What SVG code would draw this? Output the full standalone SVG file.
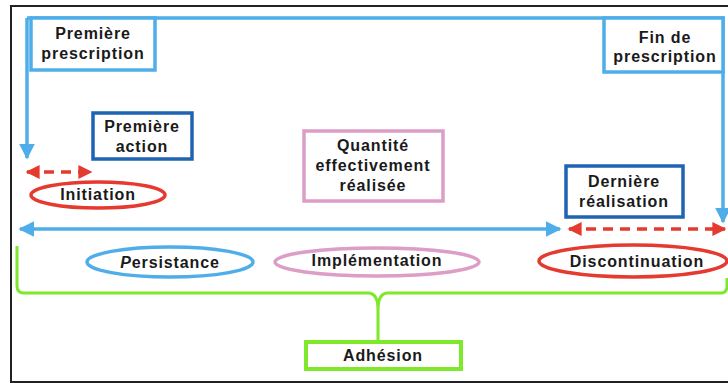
<svg xmlns="http://www.w3.org/2000/svg" width="728" height="383" viewBox="0 0 728 383">
<defs>
<style>
text{font-family:"Liberation Sans",Arial,sans-serif;font-weight:bold;font-size:16px;letter-spacing:0.9px;fill:#1a1a1a;text-anchor:middle}
.lb{fill:#fff;stroke:#4faee9;stroke-width:3.5}
.db{fill:#fff;stroke:#1f63b3;stroke-width:3.5}
.pk{fill:#fff;stroke:#dc9dc6;stroke-width:3.5}
.gr{fill:#fff;stroke:#7ee82a;stroke-width:4}
.rd{fill:#fff;stroke:#e53a2f;stroke-width:3.5}
.ln{fill:none;stroke:#4faee9;stroke-width:3.5}
.dash{fill:none;stroke:#e53a2f;stroke-width:3.5;stroke-dasharray:10,7}
</style>
<marker id="ab" viewBox="0 0 10 10" refX="9" refY="5" markerWidth="4.5" markerHeight="4.5" orient="auto-start-reverse" markerUnits="strokeWidth"><path d="M0,0L10,5L0,10z" fill="#4faee9"/></marker>
<marker id="ar" viewBox="0 0 10 10" refX="9" refY="5" markerWidth="4" markerHeight="4" orient="auto-start-reverse" markerUnits="strokeWidth"><path d="M0,0L10,5L0,10z" fill="#e53a2f"/></marker>
</defs>
<rect width="728" height="383" fill="#fff"/>
<path d="M728,6H11V382H728" fill="none" stroke="#222" stroke-width="2"/>
<g id="connectors">
<path class="ln" d="M27,18H723V72" />
<path class="ln" d="M27,18V158" marker-end="url(#ab)"/>
<path class="ln" d="M723,72V222" marker-end="url(#ab)"/>
<path class="ln" d="M20,229H560" marker-start="url(#ab)" marker-end="url(#ab)"/>
<path class="dash" d="M27,172H91" marker-start="url(#ar)" marker-end="url(#ar)"/>
<path class="dash" d="M569,229H725" marker-start="url(#ar)" marker-end="url(#ar)"/>
<path d="M17,246V286Q17,293 24,293H368Q378,293 378,310V341M378,310Q378,293 388,293H721Q727,293 727,286V278" fill="none" stroke="#7ee82a" stroke-width="3"/>
</g>
<g id="premiere-prescription">
<rect class="lb" x="31" y="18" width="124" height="52"/>
<text x="93" y="39">Première</text>
<text x="93" y="59">prescription</text>
</g>
<g id="fin-prescription">
<rect class="lb" x="604" y="18" width="119" height="54"/>
<text x="665" y="43">Fin de</text>
<text x="665" y="62">prescription</text>
</g>
<g id="premiere-action">
<rect class="db" x="93" y="113" width="99" height="46"/>
<text x="142" y="132">Première</text>
<text x="142" y="152">action</text>
</g>
<g id="initiation">
<ellipse class="rd" cx="98" cy="195" rx="67" ry="13"/>
<text x="98" y="200">Initiation</text>
</g>
<g id="quantite">
<rect class="pk" x="304" y="131" width="139" height="70"/>
<text x="373" y="151">Quantité</text>
<text x="373" y="171">effectivement</text>
<text x="373" y="191">réalisée</text>
</g>
<g id="derniere-realisation">
<rect class="db" x="566" y="166" width="117" height="51"/>
<text x="624" y="187">Dernière</text>
<text x="624" y="207">réalisation</text>
</g>
<g id="persistance">
<ellipse class="lb" cx="170" cy="262" rx="83" ry="15"/>
<text x="170" y="268"><tspan font-style="italic">P</tspan>ersistance</text>
</g>
<g id="implementation">
<ellipse class="pk" cx="377" cy="262" rx="102" ry="14"/>
<text x="377" y="266">Implémentation</text>
</g>
<g id="discontinuation">
<ellipse class="rd" cx="633" cy="261" rx="94" ry="16"/>
<text x="637" y="267">Discontinuation</text>
</g>
<g id="adhesion">
<rect class="gr" x="306" y="342" width="155" height="27"/>
<text x="383" y="361">Adhésion</text>
</g>
</svg>
